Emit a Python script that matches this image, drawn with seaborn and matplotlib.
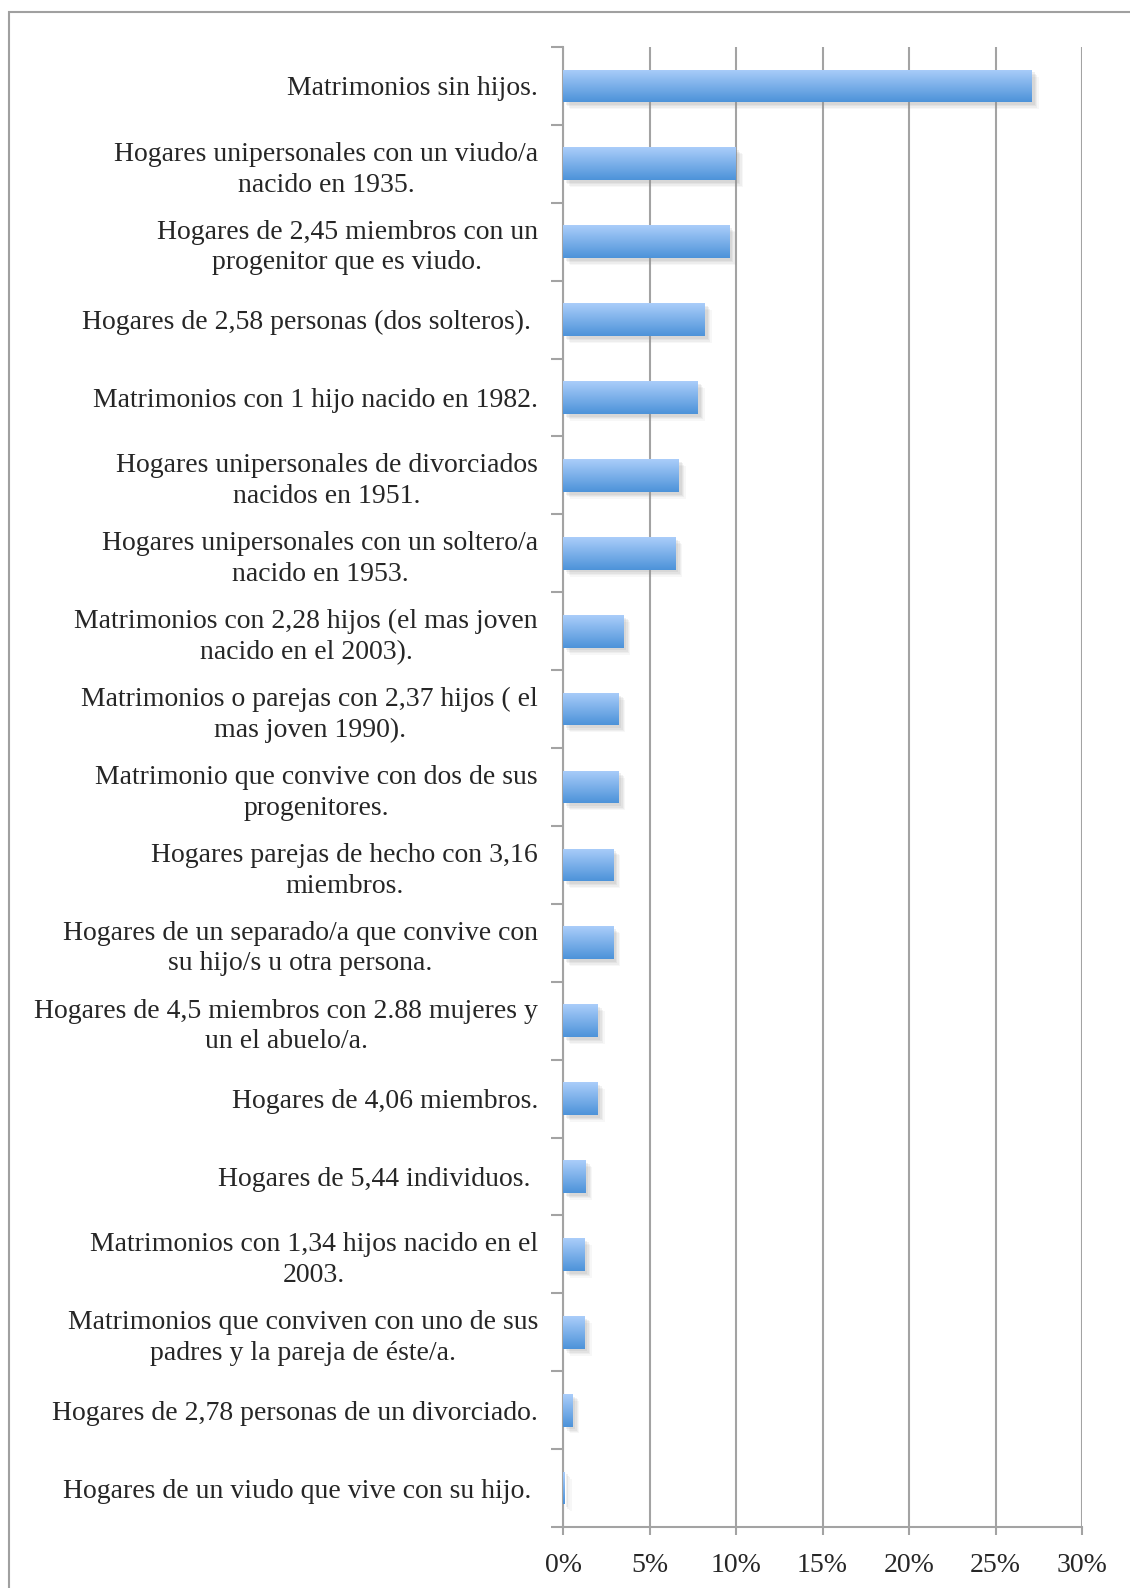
import numpy as np
import pandas as pd
import seaborn as sns
import matplotlib.pyplot as plt
from matplotlib.patches import Rectangle
from matplotlib import patheffects as pe
from matplotlib.colors import LinearSegmentedColormap

categories = [
    "Matrimonios sin hijos.",
    "Hogares unipersonales con un viudo/a\nnacido en 1935.",
    "Hogares de 2,45 miembros con un\nprogenitor que es viudo.",
    "Hogares de 2,58 personas (dos solteros). ",
    "Matrimonios con 1 hijo nacido en 1982.",
    "Hogares unipersonales de divorciados\nnacidos en 1951.",
    "Hogares unipersonales con un soltero/a\nnacido en 1953.",
    "Matrimonios con 2,28 hijos (el mas joven\nnacido en el 2003).",
    "Matrimonios o parejas con 2,37 hijos ( el\nmas joven 1990).",
    "Matrimonio que convive con dos de sus\nprogenitores.",
    "Hogares parejas de hecho con 3,16\nmiembros.",
    "Hogares de un separado/a que convive con\nsu hijo/s u otra persona.",
    "Hogares de 4,5 miembros con 2.88 mujeres y\nun el abuelo/a.",
    "Hogares de 4,06 miembros.",
    "Hogares de 5,44 individuos. ",
    "Matrimonios con 1,34 hijos nacido en el\n2003.",
    "Matrimonios que conviven con uno de sus\npadres y la pareja de éste/a.",
    "Hogares de 2,78 personas de un divorciado.",
    "Hogares de un viudo que vive con su hijo. ",
]
values = [27.1, 10.0, 9.6, 8.2, 7.8, 6.7, 6.5, 3.5, 3.2, 3.2, 2.9, 2.9,
          2.0, 2.0, 1.3, 1.25, 1.25, 0.55, 0.1]
xticks = [0, 5, 10, 15, 20, 25, 30]
xticklabels = ["0%", "5%", "10%", "15%", "20%", "25%", "30%"]

df = pd.DataFrame({"cat": categories, "val": values})

sns.set_theme(style="white")
plt.rcParams["font.family"] = ["Liberation Serif", "DejaVu Serif"]

grid_col = "#a3a3a3"
fig = plt.figure(figsize=(11.3, 15.88), dpi=100)
ax = fig.add_axes([563 / 1130, 1 - 1527 / 1588, 519 / 1130, 1480 / 1588])

sns.barplot(data=df, x="val", y="cat", orient="h", color="#6fa8e6",
            width=0.42, ax=ax, zorder=3)

# gradient fill + soft shadow on every bar
cmap = LinearSegmentedColormap.from_list("bar", ["#aacdfa", "#4d93d9"])
grad = np.linspace(0, 1, 64).reshape(-1, 1)
shadow = [pe.SimplePatchShadow(offset=(o, -o), shadow_rgbFace="#909090", alpha=a)
          for o, a in [(5, 0.07), (4, 0.09), (3, 0.11), (2, 0.13)]]
for p in ax.patches:
    x0, y0 = p.get_x(), p.get_y()
    w, h = p.get_width(), p.get_height()
    p.set_edgecolor("none")
    p.set_path_effects(shadow + [pe.Normal()])
    im = ax.imshow(grad, cmap=cmap, aspect="auto", extent=(x0, x0 + w, y0 + h, y0),
                   zorder=4, interpolation="bilinear")
    im.set_clip_path(p)

ax.set_xlim(0, 30)
ax.set_ylim(len(categories) - 0.5, -0.5)
ax.set_xticks(xticks)
ax.set_xticklabels(xticklabels, fontsize=20)
ax.set_xlabel("")
ax.set_ylabel("")
ax.set_yticks(range(len(categories)))
ax.set_yticklabels(categories, fontsize=20)
for t in ax.get_yticklabels():
    t.set_multialignment("center")
    t.set_linespacing(1.3)
ax.set_yticks(np.arange(-0.5, len(categories), 1), minor=True)
ax.tick_params(axis="y", which="major", length=0, pad=18)
ax.tick_params(axis="y", which="minor", length=9, width=1.5, color=grid_col, left=True)
ax.tick_params(axis="x", which="major", length=6, width=1.5, color=grid_col, bottom=True, pad=13)

ax.grid(axis="x", color=grid_col, linewidth=1.5, zorder=0)
ax.set_axisbelow(True)
for side in ["top", "right"]:
    ax.spines[side].set_visible(False)
for side in ["left", "bottom"]:
    ax.spines[side].set_color(grid_col)
    ax.spines[side].set_linewidth(1.5)

# outer frame
fig.patches.append(Rectangle((9 / 1130, -0.1), 1.2, 1 - 12 / 1588 + 0.1,
                             transform=fig.transFigure, fill=False,
                             edgecolor="#a0a0a0", linewidth=1.5))

fig.savefig("out.png", dpi=100)
